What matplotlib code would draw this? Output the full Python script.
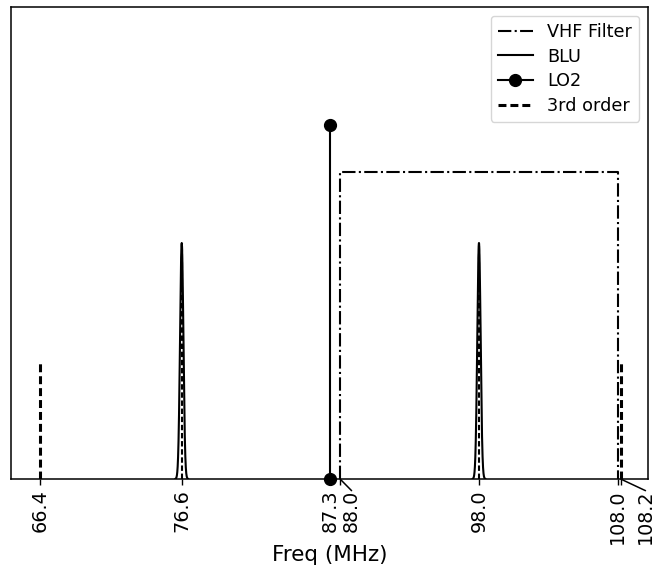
import numpy as np
import matplotlib
matplotlib.use("Agg")
import matplotlib.pyplot as plt
from matplotlib.transforms import ScaledTranslation

# Spectrum components (MHz) and relative amplitudes
lo2_freq = 87.3
lo2_level = 0.75
blu_freqs = [76.6, 98.0]
blu_level = 0.5
blu_sigma = 0.12         # gaussian line width, MHz
filter_band = [88.0, 108.0]
filter_level = 0.65
third_order_freqs = [66.4, 108.2]
third_order_level = 0.25

tick_freqs = [66.4, 76.6, 87.3, 88.0, 98.0, 108.0, 108.2]
tick_labels = ["66.4", "76.6", "87.3", "88.0", "98.0", "108.0", "108.2"]

# labels that would collide with a neighbour are moved right (points)
label_shift = {"88.0": 8.3, "108.2": 17.9}

plt.rcParams["font.family"] = "DejaVu Sans"
fig = plt.figure(figsize=(6.55, 5.72), dpi=100)
ax = fig.add_axes([0.0168, 0.1626, 0.9725, 0.8252])
lw = 1.5
lw_dash = 2.2
dash_pat = (2.6, 1.3)

# VHF filter passband
ax.plot([filter_band[0], filter_band[0], filter_band[1], filter_band[1]],
        [0, filter_level, filter_level, 0],
        color="k", ls="-.", lw=lw, label="VHF Filter")

# BLU lines
for i, f in enumerate(blu_freqs):
    x = np.linspace(f - 0.45, f + 0.45, 901)
    y = blu_level * np.exp(-0.5 * ((x - f) / blu_sigma) ** 2)
    ax.plot(x, y, color="k", lw=lw, label="BLU" if i == 0 else None)
    ax.plot([f, f], [0, blu_level], color="k", lw=lw, ls="--", dashes=dash_pat)

# LO2
ax.plot([lo2_freq, lo2_freq], [0, lo2_level], color="k", lw=lw,
        marker="o", ms=8.5, label="LO2", clip_on=False, zorder=3)

# third-order products
for i, f in enumerate(third_order_freqs):
    ax.plot([f, f], [0, third_order_level], color="k", lw=lw_dash,
            ls="--", dashes=dash_pat,
            label="3rd order" if i == 0 else None)

ax.set_xlim(64.31, 110.17)
ax.set_ylim(0, 1)
ax.set_yticks([])
ax.set_xticks(tick_freqs)
ax.set_xticklabels(tick_labels, rotation=90, fontsize=13.8)
ax.tick_params(axis="x", length=4.5, width=1.0, pad=3.0)
ax.set_xlabel("Freq (MHz)", fontsize=15.5, labelpad=1)
for sp in ax.spines.values():
    sp.set_linewidth(1.1)

for lab, f in zip(ax.get_xticklabels(), tick_freqs):
    txt = lab.get_text()
    if txt in label_shift:
        dx = label_shift[txt]
        lab.set_transform(lab.get_transform() +
                          ScaledTranslation(dx / 72, 0, fig.dpi_scale_trans))
        ax.annotate("", xy=(f, 0), xycoords=("data", "axes fraction"),
                    xytext=(dx, -8.4), textcoords="offset points",
                    arrowprops=dict(arrowstyle="-", lw=1.1, color="k",
                                    shrinkA=0, shrinkB=0),
                    annotation_clip=False)

ax.legend(loc="upper right", fontsize=12.7, labelspacing=0.38)

fig.savefig("out.png", dpi=100)
